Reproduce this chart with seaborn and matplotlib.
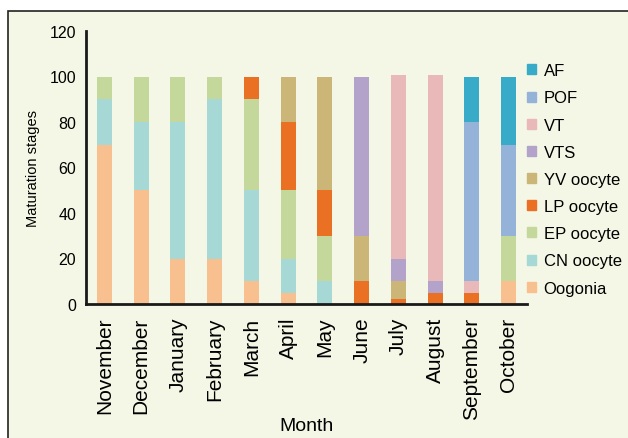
import numpy as np
import pandas as pd
import matplotlib
matplotlib.use('Agg')
import matplotlib.pyplot as plt
import matplotlib.patches as mpatches
import seaborn as sns

# data (persen tiap tahap per bulan)
months = ['November', 'December', 'January', 'February', 'March', 'April',
          'May', 'June', 'July', 'August', 'September', 'October']
oogonia = [70, 50, 20, 20, 10, 5, 0, 0, 0, 0, 0, 10]
cn_oocyte = [20, 30, 60, 70, 40, 15, 10, 0, 0, 0, 0, 0]
ep_oocyte = [10, 20, 20, 10, 40, 30, 20, 0, 0, 0, 0, 20]
lp_oocyte = [0, 0, 0, 0, 10, 30, 20, 10, 2, 5, 5, 0]
yv_oocyte = [0, 0, 0, 0, 0, 20, 50, 20, 8, 0, 0, 0]
vts = [0, 0, 0, 0, 0, 0, 0, 70, 10, 5, 0, 0]
vt = [0, 0, 0, 0, 0, 0, 0, 0, 80.5, 90.5, 5, 0]
pof = [0, 0, 0, 0, 0, 0, 0, 0, 0, 0, 70, 40]
af = [0, 0, 0, 0, 0, 0, 0, 0, 0, 0, 20, 30]

stages = ['Oogonia', 'CN oocyte', 'EP oocyte', 'LP oocyte', 'YV oocyte',
          'VTS', 'VT', 'POF', 'AF']
nilai = [oogonia, cn_oocyte, ep_oocyte, lp_oocyte, yv_oocyte, vts, vt, pof, af]
warna = ['#F9C08F', '#A6D8D5', '#C5D89B', '#EA7024', '#CBB577',
         '#B3A2C9', '#E8B9B8', '#95B3D8', '#38ABC8']

cream = '#F4F7E5'
plt.rcParams['font.family'] = ['Liberation Sans', 'DejaVu Sans']

fig = plt.figure(figsize=(6.28, 4.39), dpi=100, facecolor='white')
# panel latar krem dengan garis tepi kiri & atas
bg = mpatches.Rectangle((8 / 628, -0.02), 1.1, (439 - 12) / 439 + 0.02,
                        transform=fig.transFigure, facecolor=cream,
                        edgecolor='#222222', linewidth=1.2, zorder=-10)
fig.patches.append(bg)

ax = fig.add_axes([86 / 628, 1 - 305 / 439, 441 / 628, 273 / 439])
ax.set_facecolor('none')
ax.set_zorder(5)

bawah = np.zeros(len(months))
for nama, v, c in zip(stages, nilai, warna):
    sns.barplot(x=months, y=v, bottom=bawah, color=c, width=0.41,
                saturation=1, linewidth=0, ax=ax)
    bawah = bawah + np.array(v)

ax.set_xlim(-0.5, 11.5)
ax.set_ylim(0, 120)
ax.set_yticks(range(0, 121, 20))
ax.tick_params(axis='both', length=0)
ax.tick_params(axis='y', labelsize=11.5, pad=7)
ax.tick_params(axis='x', labelsize=15, pad=9, rotation=90)
for s in ['top', 'right']:
    ax.spines[s].set_visible(False)
for s in ['left', 'bottom']:
    ax.spines[s].set_linewidth(2)
    ax.spines[s].set_color('#1a1a1a')

ax.set_ylabel('Maturation stages', fontsize=10.5, labelpad=7)
ax.set_xlabel('Month', fontsize=14)
ax.xaxis.set_label_coords(0.5, -0.415)

patches = [mpatches.Patch(color=c, label=n) for n, c in zip(stages, warna)][::-1]
fig.legend(handles=patches, loc='center left',
           bbox_to_anchor=(527 / 628, 1 - 180.5 / 439), frameon=False,
           fontsize=12, handlelength=0.55, handleheight=0.55,
           handletextpad=0.45, labelspacing=0.73, borderpad=0,
           borderaxespad=0)

plt.savefig('out.png', dpi=100, facecolor=fig.get_facecolor())
